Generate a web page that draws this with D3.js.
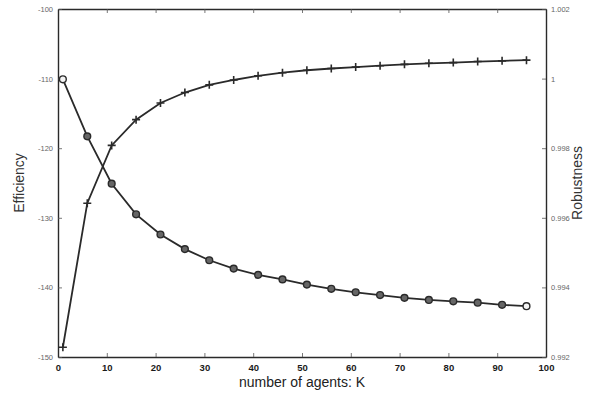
<!DOCTYPE html>
<html><head><meta charset="utf-8">
<script src="https://cdn.jsdelivr.net/npm/d3@7"></script>
<style>body{margin:0;background:#fff}svg{display:block}</style>
</head><body>
<script>
const agentsK = [1,6,11,16,21,26,31,36,41,46,51,56,61,66,71,76,81,86,91,96];
const efficiency = [-148.6,-127.9,-119.6,-115.9,-113.5,-112.0,-110.9,-110.2,-109.6,-109.15,-108.8,-108.55,-108.35,-108.15,-107.95,-107.8,-107.7,-107.55,-107.45,-107.35];
const robustness = [0.99998,0.99834,0.99698,0.99610,0.99552,0.99510,0.99478,0.99454,0.99436,0.99423,0.99408,0.99396,0.99386,0.99378,0.99370,0.99364,0.99360,0.99356,0.99350,0.99346];
const xTicks = [0,10,20,30,40,50,60,70,80,90,100];
const effTicks = [-150,-140,-130,-120,-110,-100];
const robTicks = [0.992,0.994,0.996,0.998,1,1.002];
const robLabels = ["0.992","0.994","0.996","0.998","1","1.002"];

const W=592,H=396, L=58,R=546,T=9,B=357;
const font="Liberation Sans, Arial, sans-serif";
const svg=d3.select("body").append("svg").attr("width",W).attr("height",H);
const x=d3.scaleLinear().domain([0,100]).range([L,R]);
const yL=d3.scaleLinear().domain([-150,-100]).range([B,T]);
const yR=d3.scaleLinear().domain([0.992,1.002]).range([B,T]);
const ink="#2a2a2a";

const gB=svg.append("g").attr("transform",`translate(0,${B})`)
 .call(d3.axisBottom(x).tickValues(xTicks).tickSizeInner(-4).tickSizeOuter(0).tickPadding(7));
gB.selectAll("text").attr("font-family",font).attr("font-size",9.5).attr("font-weight","bold").attr("fill","#1a1a1a");
svg.append("g").attr("transform",`translate(0,${T})`)
 .call(d3.axisTop(x).tickValues(xTicks).tickSizeInner(-4).tickSizeOuter(0).tickFormat(""));
const gL=svg.append("g").attr("transform",`translate(${L},0)`)
 .call(d3.axisLeft(yL).tickValues(effTicks).tickSizeInner(-4).tickSizeOuter(0).tickPadding(5).tickFormat(d=>"-"+Math.abs(d)));
gL.selectAll("text").attr("font-family",font).attr("font-size",7.5).attr("fill","#666");
const gR=svg.append("g").attr("transform",`translate(${R},0)`)
 .call(d3.axisRight(yR).tickValues(robTicks).tickSizeInner(-4).tickSizeOuter(0).tickPadding(5).tickFormat((d,i)=>robLabels[i]));
gR.selectAll("text").attr("font-family",font).attr("font-size",7.5).attr("fill","#666");
svg.selectAll(".domain").attr("stroke",ink).attr("stroke-width",1.4);
svg.selectAll(".tick line").attr("stroke","#555").attr("stroke-width",0.8);

const effLine=d3.line().x((d,i)=>x(agentsK[i])).y(d=>yL(d));
const robLine=d3.line().x((d,i)=>x(agentsK[i])).y(d=>yR(d));
svg.append("path").datum(efficiency).attr("d",effLine).attr("fill","none").attr("stroke",ink).attr("stroke-width",1.8);
svg.append("path").datum(robustness).attr("d",robLine).attr("fill","none").attr("stroke",ink).attr("stroke-width",1.8);

const s=4;
svg.append("g").selectAll("path").data(efficiency).join("path")
 .attr("d",(d,i)=>{const cx=x(agentsK[i]),cy=yL(d);return `M${cx-s},${cy}H${cx+s}M${cx},${cy-s}V${cy+s}`;})
 .attr("stroke",ink).attr("stroke-width",1.6).attr("fill","none");
svg.append("g").selectAll("circle").data(robustness).join("circle")
 .attr("cx",(d,i)=>x(agentsK[i])).attr("cy",d=>yR(d)).attr("r",3.4)
 .attr("fill",(d,i)=>i===0||i===agentsK.length-1?"#f4f4f4":"#666").attr("stroke",ink).attr("stroke-width",1.4);

svg.append("text").attr("transform",`translate(24,${(T+B)/2}) rotate(-90)`).attr("text-anchor","middle")
 .attr("font-family",font).attr("font-size",14).attr("fill","#333").text("Efficiency");
svg.append("text").attr("transform",`translate(582,${(T+B)/2}) rotate(-90)`).attr("text-anchor","middle")
 .attr("font-family",font).attr("font-size",14).attr("fill","#333").text("Robustness");
svg.append("text").attr("x",(L+R)/2).attr("y",387).attr("text-anchor","middle")
 .attr("font-family",font).attr("font-size",14).attr("fill","#222").text("number of agents: K");
</script>
</body></html>
